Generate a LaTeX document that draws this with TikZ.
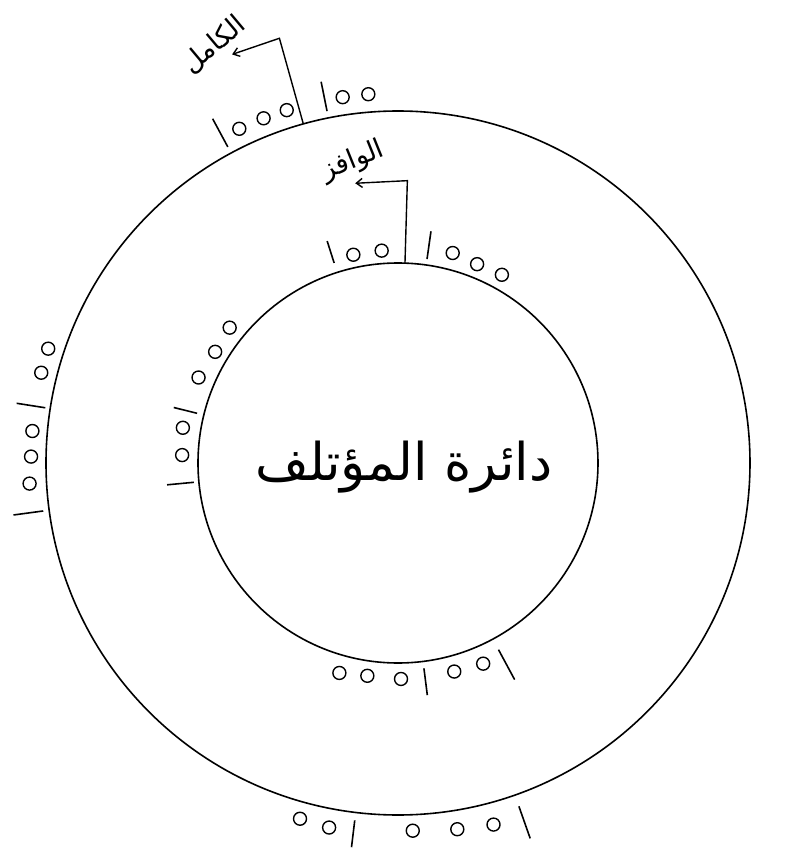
\documentclass[tikz,border=0pt]{standalone}
\usepackage{fontspec}
\newfontfamily\arabicfont[Script=Arabic]{DejaVu Sans}
\TeXXeTstate=1
\usetikzlibrary{arrows.meta}
\begin{document}
\begin{tikzpicture}[x=1pt,y=1pt,
  ring/.style={draw, circle, line width=1.6pt, inner sep=0pt, outer sep=0pt},
  dot/.style={draw, circle, line width=1.4pt, minimum size=13pt, inner sep=0pt},
  bar/.style={line width=1.6pt},
  lead/.style={line width=1.4pt, -{Straight Barb[length=6pt,width=9pt]}},
  ar/.style={font=\arabicfont\fontsize{27}{30}\selectfont, inner sep=0pt},
  big/.style={font=\arabicfont\fontsize{52}{58}\selectfont, inner sep=0pt}
]
\useasboundingbox (-398,-400) rectangle (412,463);
\node[ring, minimum size=704pt] (outer) at (0,0) {};
\node[ring, minimum size=400pt] (inner) at (0,0) {};
% centre title
\node[big, anchor=base] (title) at (6,-17) {\beginR دائرة المؤتلف\endR};
% outer ring marks
\foreach \a/\r [count=\i] in {115.4/370,111.3/370,107.5/370,98.6/370,94.6/370,
  161.9/368,165.8/368,175/367,179/367,183.2/369,
  254.6/369,259.3/371,272.3/368,279.2/371,284.8/374}
  \node[dot] (od\i) at (\a:\r) {};
\foreach \a/\ra/\rb in {118.3/359/391,101.4/359/389,171.1/357/386,187.7/358/388,263.1/360/387,289.4/364/398}
  \draw[bar] (\a:\ra) -- (\a:\rb);
% inner ring marks
\foreach \a/\r [count=\i] in {102.1/213,94.4/213,75.4/217,68.3/214,61.1/215,
  141.2/216,148.7/214,156.8/217,170.7/218,177.9/216,
  254.4/218,261.8/215,270.8/216,285.1/216,293/218}
  \node[dot] (id\i) at (\a:\r) {};
\foreach \a/\ra/\rb in {107.7/210/233,81.9/206/234,166.1/207/231,185.4/205/232,277.2/207/234,298.3/212/246}
  \draw[bar] (\a:\ra) -- (\a:\rb);
% labels and leaders
\node[ar, rotate=40] (kamil) at (-184,418) {\beginR الكامل\endR};
\node[ar, rotate=22] (wafir) at (-45,302) {\beginR الوافز\endR};
\coordinate (kfoot) at (105.6:352);
\coordinate (kbend) at (105.6:441);
\coordinate (ktip) at (112.1:441);
\coordinate (wfoot) at (88:200);
\coordinate (wbend) at (88.1:282.5);
\coordinate (wtip) at (98.7:283);
\draw[lead] (kfoot) -- (kbend) -- (ktip);
\draw[lead] (wfoot) -- (wbend) -- (wtip);
\end{tikzpicture}
\end{document}
